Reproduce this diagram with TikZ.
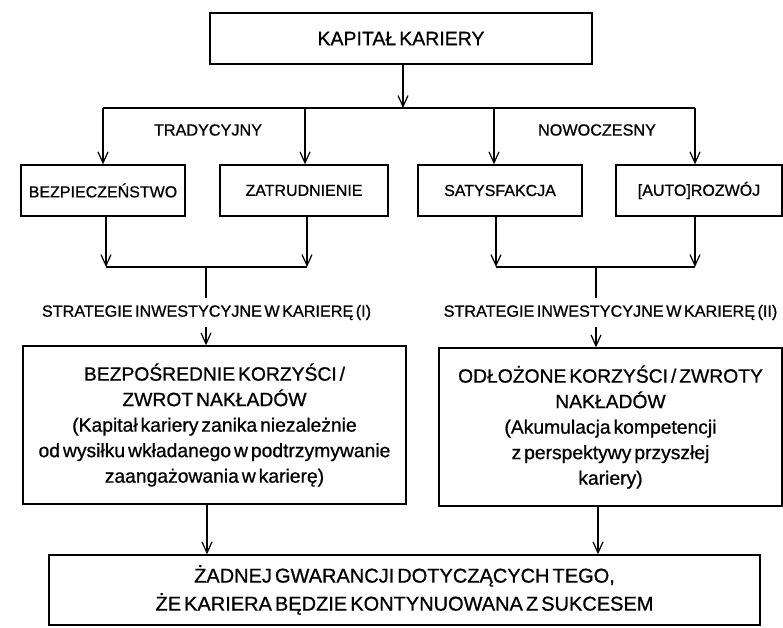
\documentclass[tikz,border=0pt]{standalone}
\usepackage{fontspec}
\setmainfont{Liberation Sans}[WordSpace=0.55, FakeBold=0.8]
\usetikzlibrary{arrows.meta}

\tikzset{
  box/.style={draw, line width=1.4pt, rectangle, inner sep=0pt, align=center},
  smallbox/.style={box, minimum height=51pt, font=\fontsize{16}{19}\selectfont},
  bigbox/.style={box, font=\fontsize{19.3}{25.5}\selectfont},
  caption/.style={inner sep=0pt, font=\fontsize{16.2}{18}\selectfont},
  strat/.style={caption, minimum height=29pt},
  ln/.style={line width=1.2pt},
  arr/.style={ln, -{Straight Barb[length=11pt,width=10pt]}}
}

\begin{document}
\begin{tikzpicture}[x=1pt, y=-1pt]
\useasboundingbox (0,0) rectangle (783,627);

% top box
\node[bigbox, minimum width=382pt, minimum height=51pt, font=\fontsize{19.5}{22}\selectfont]
  (top) at (401,38.5) {KAPITAŁ KARIERY};

% four component boxes
\node[smallbox, minimum width=164pt] (b1) at (103,190.5) {BEZPIECZEŃSTWO};
\node[smallbox, minimum width=168pt] (b2) at (304,190.5) {ZATRUDNIENIE};
\node[smallbox, minimum width=164pt] (b3) at (500,190.5) {SATYSFAKCJA};
\node[smallbox, minimum width=166pt] (b4) at (699,190.5) {[AUTO]ROZWÓJ};

% group captions
\node[caption] (trad) at (208,130) {TRADYCYJNY};
\node[caption] (now)  at (597,130) {NOWOCZESNY};

% strategy captions
\node[strat] (s1) at (206.5,312.5) {STRATEGIE INWESTYCYJNE W KARIERĘ (I)};
\node[strat] (s2) at (610.5,312.5) {STRATEGIE INWESTYCYJNE W KARIERĘ (II)};

% outcome boxes
\node[bigbox, minimum width=383pt, minimum height=158pt] (b5) at (214.5,425)
  {BEZPOŚREDNIE KORZYŚCI /\\ZWROT NAKŁADÓW\\(Kapitał kariery zanika niezależnie\\od wysiłku wkładanego w podtrzymywanie\\zaangażowania w karierę)};
\node[bigbox, minimum width=343pt, minimum height=158pt] (b6) at (610.5,427)
  {ODŁOŻONE KORZYŚCI / ZWROTY\\NAKŁADÓW\\(Akumulacja kompetencji\\z perspektywy przyszłej\\kariery)};

% final box
\node[bigbox, minimum width=711pt, minimum height=70pt, font=\fontsize{20}{28}\selectfont]
  (b7) at (404.5,590)
  {ŻADNEJ GWARANCJI DOTYCZĄCYCH TEGO,\\ŻE KARIERA BĘDZIE KONTYNUOWANA Z SUKCESEM};

% split below the top box
\coordinate (hub) at (403,108);
\coordinate (d1) at (103,108);
\coordinate (d2) at (305,108);
\coordinate (d3) at (494,108);
\coordinate (d4) at (695,108);
\draw[arr] (top.south -| hub) -- (hub);
\draw[ln] (d1) -- (d4);
\draw[arr] (d1) -- (d1 |- b1.north);
\draw[arr] (d2) -- (d2 |- b2.north);
\draw[arr] (d3) -- (d3 |- b3.north);
\draw[arr] (d4) -- (d4 |- b4.north);

% joins below the component boxes
\coordinate (j1) at (106,267);
\coordinate (j2) at (307,267);
\coordinate (j3) at (496,267);
\coordinate (j4) at (695,267);
\coordinate (m1) at (206,267);
\coordinate (m2) at (596,267);
\draw[arr] (j1 |- b1.south) -- (j1);
\draw[arr] (j2 |- b2.south) -- (j2);
\draw[arr] (j3 |- b3.south) -- (j3);
\draw[arr] (j4 |- b4.south) -- (j4);
\draw[ln] (j1) -- (j2);
\draw[ln] (j3) -- (j4);
\draw[ln] (m1) -- (m1 |- s1.north);
\draw[ln] (m2) -- (m2 |- s2.north);
\draw[arr] (m1 |- s1.south) -- (m1 |- b5.north);
\draw[arr] (m2 |- s2.south) -- (m2 |- b6.north);

% into the final box
\coordinate (f1) at (207,0);
\coordinate (f2) at (598,0);
\draw[arr] (f1 |- b5.south) -- (f1 |- b7.north);
\draw[arr] (f2 |- b6.south) -- (f2 |- b7.north);
\end{tikzpicture}
\end{document}
